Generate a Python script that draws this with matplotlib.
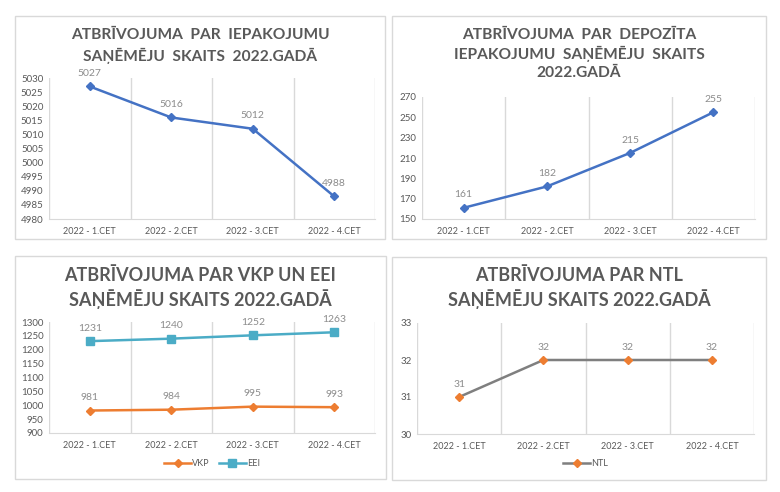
import matplotlib.pyplot as plt
from matplotlib.patches import Rectangle

# dati
ceturksni = ["2022 - 1.CET", "2022 - 2.CET", "2022 - 3.CET", "2022 - 4.CET"]
iepakojumi = [5027, 5016, 5012, 4988]
depozits = [161, 182, 215, 255]
vkp = [981, 984, 995, 993]
eei = [1231, 1240, 1252, 1263]
ntl = [31, 32, 32, 32]

nosaukums1 = "ATBRĪVOJUMA  PAR  IEPAKOJUMU\nSAŅĒMĒJU  SKAITS  2022.GADĀ"
nosaukums2 = "ATBRĪVOJUMA  PAR  DEPOZĪTA\nIEPAKOJUMU  SAŅĒMĒJU  SKAITS\n2022.GADĀ"
nosaukums3 = "ATBRĪVOJUMA PAR VKP UN EEI\nSAŅĒMĒJU SKAITS 2022.GADĀ"
nosaukums4 = "ATBRĪVOJUMA PAR NTL\nSAŅĒMĒJU SKAITS 2022.GADĀ"

plt.rcParams['font.family'] = ['Lato', 'DejaVu Sans']

W, H = 780, 492
fig = plt.figure(figsize=(W / 100, H / 100), dpi=100)

pelēks = "#595959"
rezga = "#D9D9D9"


def kaste(x0, y0, x1, y1):
    # pikselos -> figuras koordinatas
    return [x0 / W, 1 - y1 / H, (x1 - x0) / W, (y1 - y0) / H]


def ramis(x0, y0, x1, y1):
    fig.patches.append(Rectangle((x0 / W, 1 - y1 / H), (x1 - x0) / W, (y1 - y0) / H,
                                 transform=fig.transFigure, fill=False,
                                 edgecolor=rezga, linewidth=1))


def sagatavo(ax, ylim, yticks):
    x = range(len(ceturksni))
    ax.set_xlim(-0.5, 3.5)
    ax.set_ylim(*ylim)
    ax.set_yticks(yticks)
    ax.set_xticks(list(x))
    ax.set_xticklabels(ceturksni, fontsize=6.5, color=pelēks)
    ax.set_xticks([-0.5, 0.5, 1.5, 2.5, 3.5], minor=True)
    ax.grid(True, which='minor', axis='x', color=rezga, linewidth=1)
    ax.tick_params(axis='both', which='both', length=0)
    ax.tick_params(axis='y', labelsize=7, labelcolor=pelēks, pad=4)
    ax.tick_params(axis='x', pad=6)
    for s in ['top', 'right', 'left']:
        ax.spines[s].set_visible(False)
    ax.spines['bottom'].set_color(rezga)


def etiketes(ax, vertibas):
    for i, v in enumerate(vertibas):
        ax.annotate(str(v), (i, v), xytext=(0, 6), textcoords='offset points',
                    ha='center', va='bottom', fontsize=7.5, color="#8C8C8C")


# 1. grafiks
ramis(15, 16, 385, 239)
ax1 = fig.add_axes(kaste(49, 78, 375, 219))
sagatavo(ax1, (4980, 5030), range(4980, 5031, 5))
ax1.plot(range(4), iepakojumi, color="#4472C4", linewidth=1.8, marker='D', markersize=4)
etiketes(ax1, iepakojumi)
fig.text(200 / W, 1 - 46 / H, nosaukums1, ha='center', va='center', fontsize=11.2,
         fontweight='bold', color=pelēks, linespacing=1.4)

# 2. grafiks
ramis(392, 16, 766, 239)
ax2 = fig.add_axes(kaste(422, 97, 755, 219))
sagatavo(ax2, (150, 270), range(150, 271, 20))
ax2.plot(range(4), depozits, color="#4472C4", linewidth=1.8, marker='D', markersize=4)
etiketes(ax2, depozits)
fig.text(579 / W, 1 - 54 / H, nosaukums2, ha='center', va='center', fontsize=11.2,
         fontweight='bold', color=pelēks, linespacing=1.3)

# 3. grafiks
ramis(15, 256, 386, 479)
ax3 = fig.add_axes(kaste(49, 322, 375, 433))
sagatavo(ax3, (900, 1300), range(900, 1301, 50))
ax3.plot(range(4), vkp, color="#ED7D31", linewidth=1.8, marker='D', markersize=4, label="VKP")
ax3.plot(range(4), eei, color="#4BACC6", linewidth=1.8, marker='s', markersize=6, label="EEI")
etiketes(ax3, vkp)
etiketes(ax3, eei)
ax3.legend(loc='center', bbox_to_anchor=(0.5, (433 - 464) / (433 - 322)), ncol=2,
           frameon=False, fontsize=6.5, labelcolor=pelēks, handlelength=3,
           handletextpad=0.1, columnspacing=1)
fig.text(200 / W, 1 - 288 / H, nosaukums3, ha='center', va='center', fontsize=13,
         fontweight='bold', color=pelēks, linespacing=1.3)

# 4. grafiks
ramis(392, 257, 766, 480)
ax4 = fig.add_axes(kaste(417, 323, 754, 434))
sagatavo(ax4, (30, 33), range(30, 34))
ax4.plot(range(4), ntl, color="#7F7F7F", linewidth=1.8, marker='D', markersize=4,
         markerfacecolor="#ED7D31", markeredgecolor="#ED7D31", label="NTL")
etiketes(ax4, ntl)
ax4.legend(loc='center', bbox_to_anchor=(0.5, (434 - 464) / (434 - 323)), ncol=1,
           frameon=False, fontsize=6.5, labelcolor=pelēks, handlelength=3,
           handletextpad=0.1)
fig.text(579 / W, 1 - 288 / H, nosaukums4, ha='center', va='center', fontsize=13,
         fontweight='bold', color=pelēks, linespacing=1.3)

plt.savefig("out.png", dpi=100)
